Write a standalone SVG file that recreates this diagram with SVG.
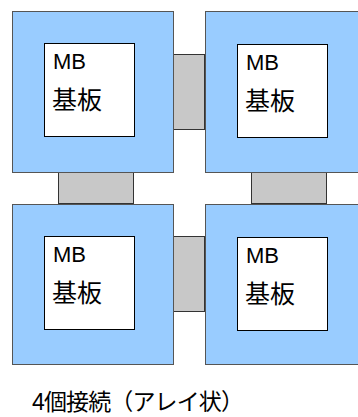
<svg xmlns="http://www.w3.org/2000/svg" width="358" height="417" viewBox="0 0 358 417">
<style>
.board{fill:#99ccff;stroke:#555;stroke-width:1}
.inner{fill:#fff;stroke:#000;stroke-width:1}
.link{fill:#c8c8c8;stroke:#333;stroke-width:1}
.mb{font-family:"Liberation Sans",Arial,sans-serif;font-size:22px;fill:#000}
.kj{font-family:"Noto Sans CJK JP",sans-serif;font-size:25px;fill:#000}
.cap{font-family:"Liberation Sans","Noto Sans CJK JP",sans-serif;font-size:23px;fill:#000}
</style>
<rect width="358" height="417" fill="#fff"/>
<g id="connectors">
<rect class="link" x="173.5" y="54.5" width="31" height="75"/>
<rect class="link" x="58.5" y="172.5" width="75" height="31"/>
<rect class="link" x="251.5" y="172.5" width="75" height="31"/>
<rect class="link" x="173.5" y="236.5" width="31" height="75"/>
</g>
<g id="node-tl">
<rect class="board" x="12.5" y="11.5" width="161" height="161"/>
<rect class="inner" x="44.5" y="43.5" width="90" height="93"/>
<text class="mb" x="53" y="69">MB</text>
<text class="kj" x="52" y="109">基板</text>
</g>
<g id="node-tr">
<rect class="board" x="205.5" y="11.5" width="170" height="161"/>
<rect class="inner" x="237.5" y="44.5" width="90" height="93"/>
<text class="mb" x="246" y="70">MB</text>
<text class="kj" x="245" y="110">基板</text>
</g>
<g id="node-bl">
<rect class="board" x="12.5" y="204.5" width="161" height="160"/>
<rect class="inner" x="44.5" y="236.5" width="90" height="93"/>
<text class="mb" x="53" y="262">MB</text>
<text class="kj" x="52" y="302">基板</text>
</g>
<g id="node-br">
<rect class="board" x="205.5" y="204.5" width="170" height="160"/>
<rect class="inner" x="237.5" y="237.5" width="90" height="93"/>
<text class="mb" x="246" y="263">MB</text>
<text class="kj" x="245" y="303">基板</text>
</g>
<text class="cap" x="32" y="410" textLength="212" lengthAdjust="spacing">4個接続（アレイ状）</text>
</svg>
